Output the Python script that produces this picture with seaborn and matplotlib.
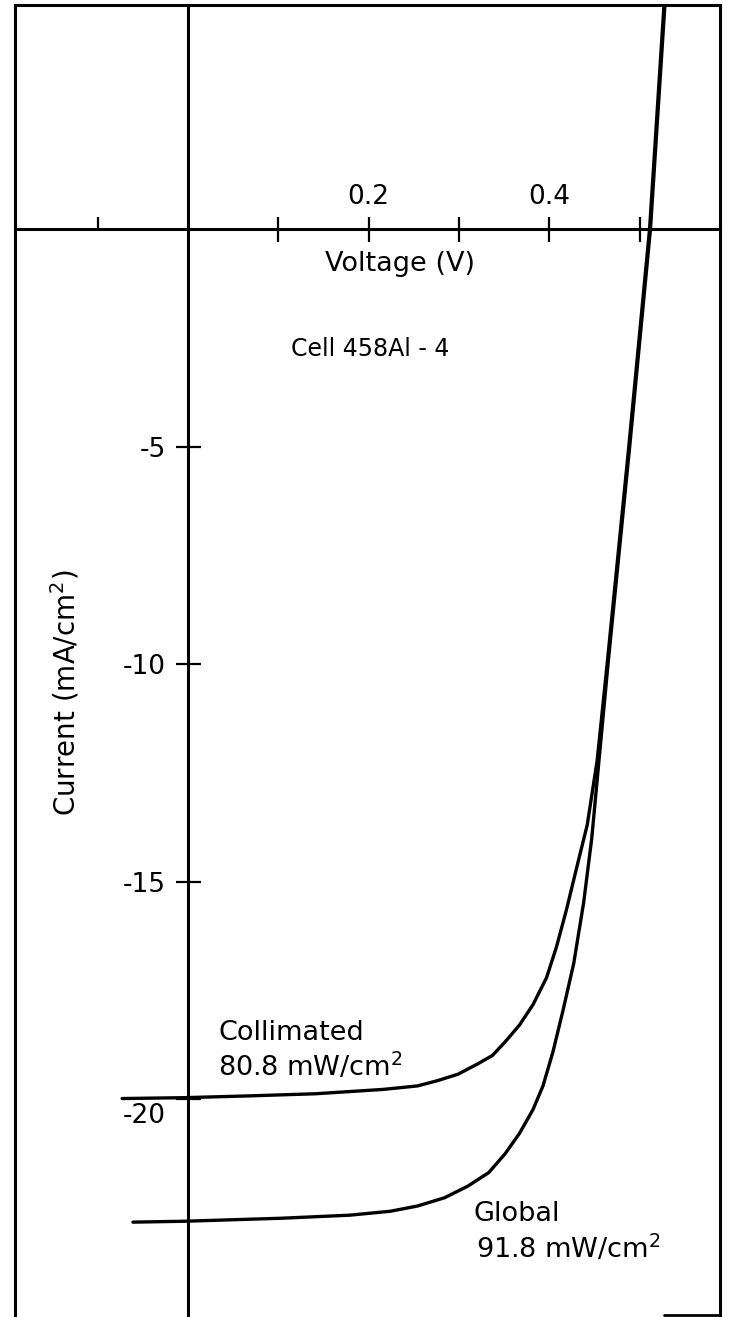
import matplotlib
matplotlib.use("Agg")
import matplotlib.pyplot as plt
import matplotlib.transforms as mtransforms
from matplotlib.ticker import FixedLocator
import pandas as pd
import seaborn as sns

# ---------------- data ----------------
series_names = ["Collimated", "Global"]

coll_voltage = [-0.073, -0.005, 0.066, 0.141, 0.216, 0.254, 0.276, 0.299, 0.321, 0.337,
                0.351, 0.367, 0.382, 0.397, 0.408, 0.419, 0.430, 0.442, 0.453, 0.464,
                0.488, 0.511, 0.527]
coll_current = [-19.98, -19.96, -19.92, -19.87, -19.77, -19.69, -19.57, -19.42, -19.18, -18.99,
                -18.68, -18.29, -17.82, -17.2, -16.49, -15.64, -14.70, -13.69, -12.21, -10.0,
                -5.0, 0.0, 5.15]

glob_voltage = [-0.061, -0.005, 0.104, 0.179, 0.224, 0.254, 0.284, 0.310, 0.333, 0.351,
                0.367, 0.382, 0.393, 0.404, 0.415, 0.427, 0.438, 0.447, 0.455, 0.465,
                0.489, 0.512, 0.528]
glob_current = [-22.82, -22.80, -22.73, -22.66, -22.57, -22.45, -22.26, -21.99, -21.68, -21.25,
                -20.78, -20.23, -19.69, -18.91, -17.97, -16.88, -15.48, -14.0, -12.21, -10.0,
                -5.0, 0.0, 5.15]

x_ticks = [0.1, 0.2, 0.3, 0.4, 0.5]
x_tick_labels = ["", "0.2", "", "0.4", ""]
x_minor_ticks = [-0.1]
y_ticks = [-20, -15, -10, -5]
y_tick_labels = ["-20", "-15", "-10", "-5"]

x_label = "Voltage (V)"
y_label = "Current (mA/cm$^2$)"
title_text = "Cell 458Al - 4"
coll_label = ["Collimated", "80.8 mW/cm$^2$"]
glob_label = ["Global", "91.8 mW/cm$^2$"]

# ---------------- figure ----------------
sns.set_theme(style="ticks")
plt.rcParams["font.family"] = ["DejaVu Sans"]
plt.rcParams["text.color"] = "black"

W, H = 730, 1317
fig = plt.figure(figsize=(W / 100, H / 100), dpi=100)
fig.patch.set_facecolor("white")
ax = fig.add_axes([15 / W, 0.0, 705 / W, 1312 / H])

xlim = (-0.1916, 0.589)
ylim = (-25.0, 5.15)

df = pd.DataFrame({
    "Voltage": coll_voltage + glob_voltage,
    "Current": coll_current + glob_current,
    "Series": [series_names[0]] * len(coll_voltage) + [series_names[1]] * len(glob_voltage),
})
sns.lineplot(data=df, x="Voltage", y="Current", hue="Series", estimator=None,
             sort=False, palette=["black", "black"], legend=False, lw=2.4, ax=ax)
for ln in ax.lines:
    ln.set_solid_joinstyle("round")
    ln.set_solid_capstyle("round")

ax.set_xlim(*xlim)
ax.set_ylim(*ylim)
ax.set_xticks([])
ax.set_yticks([])
ax.set_xlabel("")
ax.set_ylabel("")
for s in ["top", "left", "right"]:
    ax.spines[s].set_visible(True)
    ax.spines[s].set_color("black")
    ax.spines[s].set_linewidth(2.2)
ax.spines["bottom"].set_visible(False)
# small visible piece of the bottom frame at lower right
ax.axhline(ylim[0] + 0.04, xmin=0.92, xmax=1.0, color="black", lw=2.0, clip_on=False)

# axes through the origin
yfrac = (0 - ylim[0]) / (ylim[1] - ylim[0])
xfrac = (0 - xlim[0]) / (xlim[1] - xlim[0])

secx = ax.secondary_xaxis(yfrac)
secx.set_xticks(x_ticks, labels=x_tick_labels)
secx.xaxis.set_minor_locator(FixedLocator(x_minor_ticks))
secx.tick_params(which="major", direction="inout", length=18, width=1.6,
                 pad=5, labelsize=19, colors="black")
secx.tick_params(which="minor", direction="out", length=9, width=1.6, colors="black")
for s in secx.spines.values():
    s.set_linewidth(2.2)
    s.set_color("black")

secy = ax.secondary_yaxis(xfrac)
secy.set_yticks(y_ticks, labels=y_tick_labels)
secy.tick_params(which="major", direction="inout", length=18, width=1.6,
                 pad=7, labelsize=19, colors="black")
for s in secy.spines.values():
    s.set_linewidth(2.2)
    s.set_color("black")

# texts
ax.text(0.235, -0.80, x_label, ha="center", va="center", fontsize=19.5)
ax.text(0.2015, -2.75, title_text, ha="center", va="center", fontsize=17)
ax.text(-0.136, -10.65, y_label, rotation=90, ha="center", va="center", fontsize=20)
ax.text(0.0332, -18.48, coll_label[0], ha="left", va="center", fontsize=19.5)
ax.text(0.0332, -19.26, coll_label[1], ha="left", va="center", fontsize=19.5)
ax.text(0.316, -22.64, glob_label[0], ha="left", va="center", fontsize=19.5)
ax.text(0.319, -23.43, glob_label[1], ha="left", va="center", fontsize=19.5)

fig.canvas.draw()
# the "-20" label sits a little below its tick in the original
lab = secy.get_yticklabels()[0]
lab.set_transform(lab.get_transform() +
                  mtransforms.ScaledTranslation(0, -10 / 72, fig.dpi_scale_trans))

fig.savefig("out.png", dpi=100, facecolor="white")
